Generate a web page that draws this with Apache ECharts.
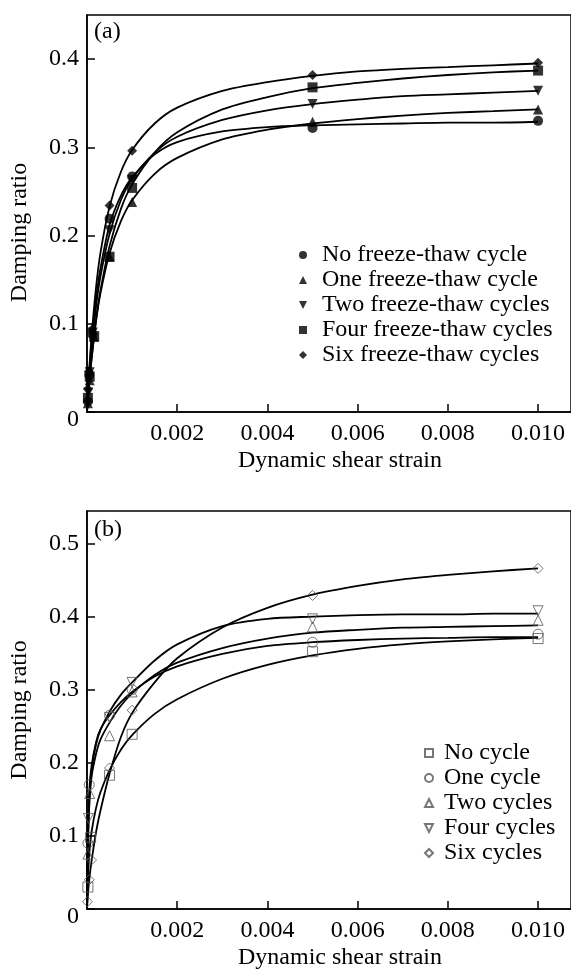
<!DOCTYPE html>
<html>
<head>
<meta charset="utf-8">
<script src="https://cdn.jsdelivr.net/npm/echarts@6/dist/echarts.min.js"></script>
<style>
  html, body { margin: 0; padding: 0; background: #fff; }
  #main { width: 571px; height: 972px; }
</style>
</head>
<body>
<div id="main"></div>
<script>
  var strainFit = [0, 0.00002, 0.00005, 0.0001, 0.0002, 0.0003, 0.0005, 0.00075, 0.001, 0.0015,
                   0.002, 0.003, 0.004, 0.005, 0.006, 0.007, 0.008, 0.009, 0.01];

  // (a) fitted curves
  var fitA_No   = [0, 0.022, 0.045, 0.078, 0.128, 0.163, 0.212, 0.245, 0.266, 0.292, 0.306, 0.318, 0.323, 0.325, 0.326, 0.327, 0.328, 0.328, 0.329];
  var fitA_One  = [0, 0.014, 0.033, 0.060, 0.103, 0.135, 0.180, 0.216, 0.240, 0.270, 0.288, 0.309, 0.320, 0.327, 0.332, 0.336, 0.339, 0.341, 0.343];
  var fitA_Two  = [0, 0.017, 0.039, 0.070, 0.119, 0.154, 0.202, 0.240, 0.264, 0.294, 0.312, 0.331, 0.342, 0.349, 0.354, 0.358, 0.360, 0.362, 0.364];
  var fitA_Four = [0, 0.013, 0.032, 0.059, 0.104, 0.138, 0.188, 0.230, 0.258, 0.294, 0.317, 0.343, 0.357, 0.367, 0.373, 0.378, 0.382, 0.385, 0.387];
  var fitA_Six  = [0, 0.021, 0.048, 0.085, 0.141, 0.181, 0.233, 0.272, 0.297, 0.327, 0.345, 0.364, 0.374, 0.381, 0.386, 0.389, 0.391, 0.393, 0.395];

  // (a) measured points [strain, damping ratio]
  var ptsA_No   = [[0.00002, 0.012], [0.00005, 0.042], [0.00012, 0.088], [0.0005, 0.219], [0.001, 0.267], [0.005, 0.322], [0.01, 0.330]];
  var ptsA_One  = [[0.00002, 0.010], [0.00006, 0.036], [0.00016, 0.085], [0.0005, 0.176], [0.001, 0.238], [0.005, 0.329], [0.01, 0.343]];
  var ptsA_Two  = [[0.00003, 0.022], [0.00006, 0.045], [0.00013, 0.090], [0.0005, 0.206], [0.001, 0.263], [0.005, 0.349], [0.01, 0.364]];
  var ptsA_Four = [[0.00002, 0.016], [0.00006, 0.040], [0.00016, 0.086], [0.0005, 0.176], [0.001, 0.254], [0.005, 0.368], [0.01, 0.387]];
  var ptsA_Six  = [[0.00002, 0.026], [0.00004, 0.046], [0.0001, 0.093], [0.0005, 0.234], [0.001, 0.296], [0.005, 0.382], [0.01, 0.396]];

  // (b) fitted curves
  var fitB_No   = [0, 0.040, 0.075, 0.105, 0.138, 0.160, 0.190, 0.218, 0.238, 0.267, 0.287, 0.315, 0.334, 0.347, 0.356, 0.362, 0.366, 0.369, 0.371];
  var fitB_One  = [0, 0.100, 0.160, 0.195, 0.228, 0.246, 0.265, 0.283, 0.297, 0.318, 0.332, 0.349, 0.360, 0.365, 0.368, 0.370, 0.371, 0.372, 0.372];
  var fitB_Two  = [0, 0.080, 0.140, 0.180, 0.212, 0.232, 0.255, 0.278, 0.295, 0.320, 0.337, 0.357, 0.370, 0.378, 0.382, 0.385, 0.386, 0.387, 0.388];
  var fitB_Four = [0, 0.090, 0.150, 0.190, 0.225, 0.245, 0.270, 0.293, 0.310, 0.340, 0.362, 0.387, 0.397, 0.400, 0.402, 0.403, 0.403, 0.404, 0.404];
  var fitB_Six  = [0, 0.020, 0.040, 0.065, 0.105, 0.135, 0.185, 0.235, 0.268, 0.310, 0.343, 0.385, 0.412, 0.430, 0.442, 0.451, 0.457, 0.462, 0.466];

  // (b) measured points
  var ptsB_No   = [[0.00002, 0.030], [0.00008, 0.098], [0.0005, 0.183], [0.001, 0.239], [0.005, 0.352], [0.01, 0.370]];
  var ptsB_One  = [[0.00002, 0.090], [0.00005, 0.170], [0.0005, 0.265], [0.001, 0.300], [0.005, 0.365], [0.01, 0.376]];
  var ptsB_Two  = [[0.00002, 0.075], [0.00006, 0.158], [0.0005, 0.237], [0.001, 0.297], [0.005, 0.386], [0.01, 0.395]];
  var ptsB_Four = [[0.00003, 0.124], [0.0005, 0.262], [0.001, 0.310], [0.005, 0.397], [0.01, 0.408]];
  var ptsB_Six  = [[0.00001, 0.010], [0.00005, 0.040], [0.0001, 0.067], [0.0005, 0.193], [0.001, 0.272], [0.005, 0.429], [0.01, 0.466]];

  var namesA = ['No freeze-thaw cycle', 'One freeze-thaw cycle', 'Two freeze-thaw cycles', 'Four freeze-thaw cycles', 'Six freeze-thaw cycles'];
  var namesB = ['No cycle', 'One cycle', 'Two cycles', 'Four cycles', 'Six cycles'];
  var xTicks = [0.002, 0.004, 0.006, 0.008, 0.010];

  var FONT = '"Liberation Serif", "Times New Roman", serif';
  var FS = 24;
  var downTri = 'path://M0,0L10,0L5,10Z';
  var symbolsA = ['circle', 'triangle', downTri, 'rect', 'diamond'];
  var symbolsB = ['rect', 'circle', 'triangle', downTri, 'diamond'];

  function pairs(ys) {
    var out = [];
    for (var i = 0; i < strainFit.length; i++) out.push([strainFit[i], ys[i]]);
    return out;
  }

  function xAxisFor(idx) {
    return {
      type: 'value', gridIndex: idx, min: 0, max: 0.01073, interval: 0.002,
      name: 'Dynamic shear strain', nameLocation: 'middle', nameGap: 37,
      nameTextStyle: { fontFamily: FONT, fontSize: FS, color: '#000', padding: [0, 0, 0, 22] },
      axisLine: { lineStyle: { color: '#000', width: 1.5 } },
      axisTick: { inside: true, length: 8, lineStyle: { color: '#000', width: 1.5 } },
      splitLine: { show: false },
      axisLabel: {
        showMinLabel: false, showMaxLabel: false, margin: 10,
        fontFamily: FONT, fontSize: FS, color: '#000',
        formatter: function (v) {
          for (var i = 0; i < xTicks.length; i++) {
            if (Math.abs(v - xTicks[i]) < 1e-7) return xTicks[i].toFixed(3);
          }
          return '';
        }
      }
    };
  }

  function yAxisFor(idx, max, shift) {
    return {
      type: 'value', gridIndex: idx, min: 0, max: max, interval: 0.1,
      name: 'Damping ratio', nameLocation: 'middle', nameGap: 55,
      nameTextStyle: { fontFamily: FONT, fontSize: FS, color: '#000', padding: [0, shift, 0, 0] },
      axisLine: { lineStyle: { color: '#000', width: 1.5 } },
      axisTick: { inside: true, length: 8, lineStyle: { color: '#000', width: 1.5 } },
      splitLine: { show: false },
      axisLabel: {
        showMaxLabel: false, margin: 8,
        fontFamily: FONT, fontSize: FS, color: '#000',
        formatter: function (v) {
          if (Math.abs(v) < 1e-9) return '{z|0}';
          if (Math.abs(v * 10 - Math.round(v * 10)) > 1e-6) return '';
          return v.toFixed(1);
        },
        rich: { z: { fontFamily: FONT, fontSize: FS, color: '#000', padding: [16, 0, 0, 0] } }
      }
    };
  }

  var series = [];
  var fitsA = [fitA_No, fitA_One, fitA_Two, fitA_Four, fitA_Six];
  var ptsA = [ptsA_No, ptsA_One, ptsA_Two, ptsA_Four, ptsA_Six];
  var fitsB = [fitB_No, fitB_One, fitB_Two, fitB_Four, fitB_Six];
  var ptsB = [ptsB_No, ptsB_One, ptsB_Two, ptsB_Four, ptsB_Six];

  for (var k = 0; k < 5; k++) {
    series.push({
      type: 'line', name: 'fitA' + k, xAxisIndex: 0, yAxisIndex: 0,
      data: pairs(fitsA[k]), showSymbol: false, smooth: 0.3,
      lineStyle: { color: '#000', width: 1.8 }, silent: true, z: 2
    });
    series.push({
      type: 'scatter', name: namesA[k], xAxisIndex: 0, yAxisIndex: 0,
      data: ptsA[k], symbol: symbolsA[k], symbolSize: 10,
      itemStyle: { color: '#000' }, z: 3
    });
    series.push({
      type: 'line', name: 'fitB' + k, xAxisIndex: 1, yAxisIndex: 1,
      data: pairs(fitsB[k]), showSymbol: false, smooth: 0.3,
      lineStyle: { color: '#000', width: 1.8 }, silent: true, z: 2
    });
    series.push({
      type: 'scatter', name: namesB[k], xAxisIndex: 1, yAxisIndex: 1,
      data: ptsB[k], symbol: symbolsB[k], symbolSize: 10,
      itemStyle: { color: 'rgba(0,0,0,0)', borderColor: '#555', borderWidth: 1 }, z: 3
    });
  }

  var option = {
    animation: false,
    backgroundColor: '#fff',
    grid: [
      { left: 87, top: 15, width: 485, height: 397, show: true, borderColor: '#000', borderWidth: 1.5 },
      { left: 87, top: 511, width: 485, height: 398, show: true, borderColor: '#000', borderWidth: 1.5 }
    ],
    xAxis: [xAxisFor(0), xAxisFor(1)],
    yAxis: [yAxisFor(0, 0.45, 38), yAxisFor(1, 0.5445, 0)],
    legend: [
      {
        data: namesA, orient: 'vertical', left: 299, top: 243, padding: 0,
        itemWidth: 8, itemHeight: 8, itemGap: 1, selectedMode: false,
        textStyle: { fontFamily: FONT, fontSize: FS, color: '#000', lineHeight: 24, padding: [0, 0, 0, 10] }
      },
      {
        data: namesB, orient: 'vertical', left: 424, top: 741, padding: 0,
        itemWidth: 8, itemHeight: 8, itemGap: 1, selectedMode: false,
        textStyle: { fontFamily: FONT, fontSize: FS, color: '#000', lineHeight: 24, padding: [0, 0, 0, 6] }
      }
    ],
    graphic: [
      { type: 'text', left: 94, top: 20, style: { text: '(a)', font: FS + 'px ' + FONT, fill: '#000' } },
      { type: 'text', left: 94, top: 518, style: { text: '(b)', font: FS + 'px ' + FONT, fill: '#000' } }
    ],
    series: series
  };

  var myChart = echarts.init(document.getElementById('main'));
  myChart.setOption(option);
  window.addEventListener('resize', function () { myChart.resize(); });
</script>
</body>
</html>
